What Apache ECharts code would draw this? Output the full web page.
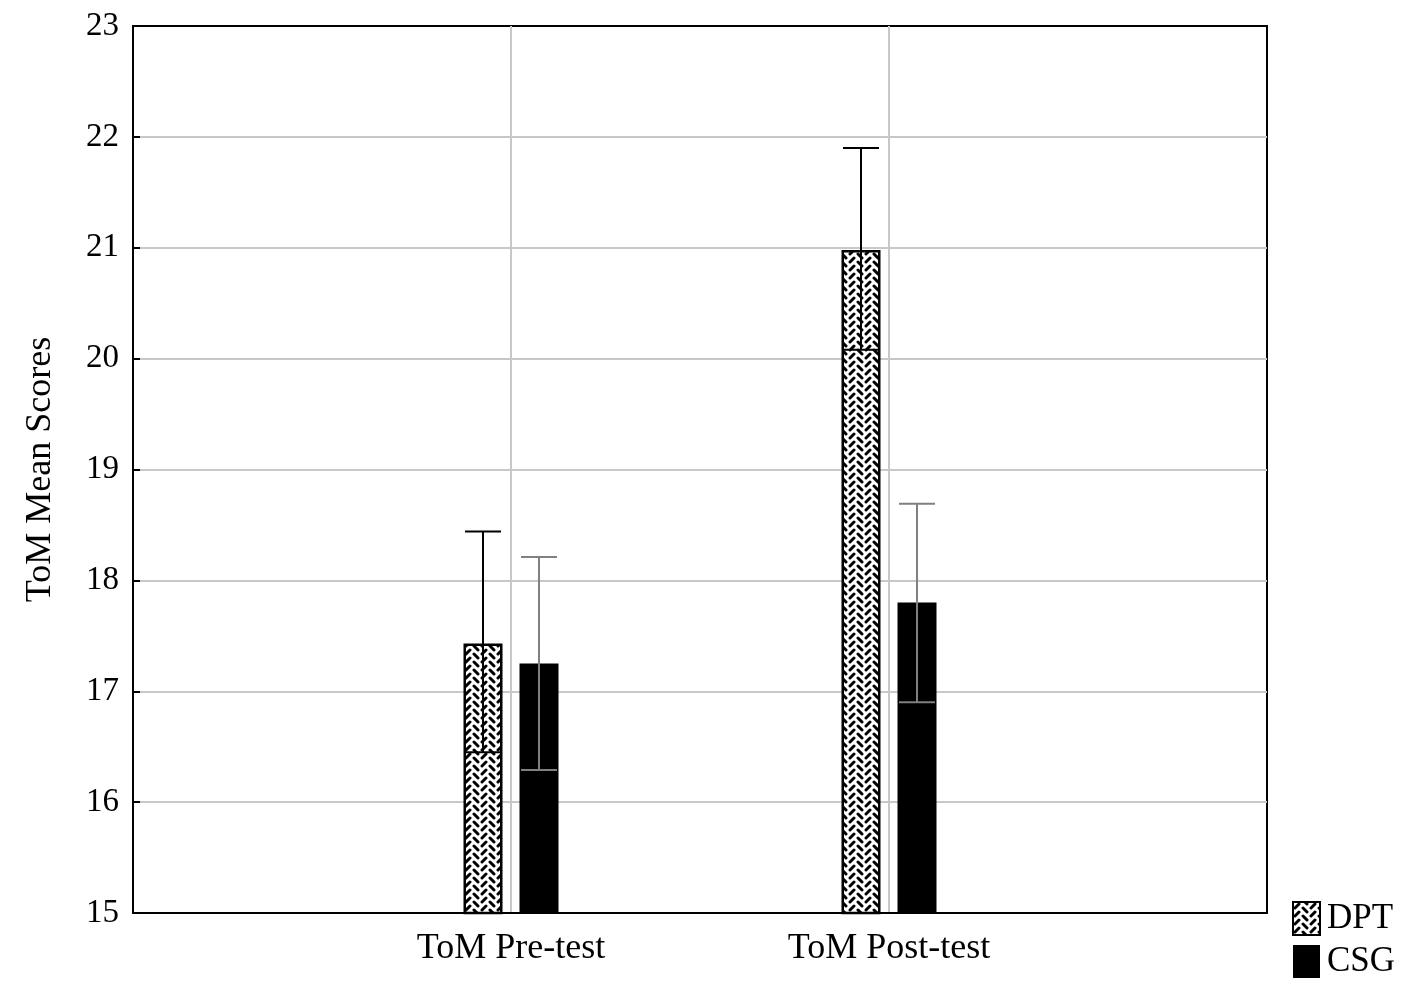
<!DOCTYPE html>
<html>
<head>
<meta charset="utf-8">
<script src="https://cdn.jsdelivr.net/npm/echarts@6/dist/echarts.min.js"></script>
<style>
  html, body { margin: 0; padding: 0; background: #fff; }
  #chart { width: 1417px; height: 995px; }
</style>
</head>
<body>
<div id="chart"></div>
<script>
// categories (blank slots at both ends keep the groups at 1/3 and 2/3)
var categories = ['', 'ToM Pre-test', 'ToM Post-test', ''];
var yTicks = [15, 16, 17, 18, 19, 20, 21, 22, 23];

// means and error bar ends
var dptMean  = [null, 17.43, 20.98, null];
var dptLow   = [null, 16.45, 20.08, null];
var dptHigh  = [null, 18.44, 21.90, null];
var csgMean  = [null, 17.25, 17.80, null];
var csgLow   = [null, 16.29, 16.90, null];
var csgHigh  = [null, 18.21, 18.69, null];

var serif = 'Liberation Serif, Times New Roman, serif';
var barW = 39;
var gapPx = 17;
var shift = (barW + gapPx) / 2;

// weave-like hatch for DPT
function makeWeave() {
    var c = document.createElement('canvas');
    c.width = 16; c.height = 16;
    var g = c.getContext('2d');
    g.fillStyle = '#fff';
    g.fillRect(0, 0, 16, 16);
    g.strokeStyle = '#000';
    g.lineWidth = 3;
    g.lineCap = 'round';
    function seg(x1, y1, x2, y2) { g.beginPath(); g.moveTo(x1, y1); g.lineTo(x2, y2); g.stroke(); }
    // column of '/' and column of '\' offset half a cell
    seg(2, 6, 6, 2);
    seg(2, 14, 6, 10);
    seg(10, 6, 14, 10);
    seg(10, -2, 14, 2);
    seg(10, 14, 14, 18);
    return c;
}
var weave = { image: makeWeave(), repeat: 'repeat' };

function errData(low, high) {
    var out = [];
    for (var i = 0; i < low.length; i++) {
        if (low[i] != null) out.push([i, low[i], high[i]]);
    }
    return out;
}

function errRender(dx, color) {
    return function (params, api) {
        var lo = api.coord([api.value(0), api.value(1)]);
        var hi = api.coord([api.value(0), api.value(2)]);
        var x = lo[0] + dx;
        var cap = 18;
        var st = { stroke: color, lineWidth: 2 };
        return {
            type: 'group',
            children: [
                { type: 'line', shape: { x1: x, y1: lo[1], x2: x, y2: hi[1] }, style: st },
                { type: 'line', shape: { x1: x - cap, y1: hi[1], x2: x + cap, y2: hi[1] }, style: st },
                { type: 'line', shape: { x1: x - cap, y1: lo[1], x2: x + cap, y2: lo[1] }, style: st }
            ]
        };
    };
}

var chart = echarts.init(document.getElementById('chart'));
chart.setOption({
    animation: false,
    backgroundColor: '#fff',
    grid: {
        left: 133, right: 150, top: 26, bottom: 82,
        show: true, borderColor: '#000', borderWidth: 2, containLabel: false
    },
    legend: {
        data: ['DPT', 'CSG'],
        orient: 'vertical',
        left: 1287, top: 896,
        itemWidth: 27, itemHeight: 33, itemGap: 8,
        icon: 'rect',
        textStyle: { fontFamily: serif, fontSize: 35, color: '#000', padding: [0, 0, 0, 2] }
    },
    xAxis: {
        type: 'category',
        data: categories,
        boundaryGap: false,
        axisLine: { lineStyle: { color: '#000', width: 2 } },
        axisTick: { show: false },
        axisLabel: { fontFamily: serif, fontSize: 36, color: '#000', margin: 18 },
        splitLine: { show: true, showMinLine: false, showMaxLine: false, lineStyle: { color: '#c8c8c8', width: 2 } }
    },
    yAxis: {
        type: 'value',
        min: yTicks[0], max: yTicks[yTicks.length - 1], interval: 1,
        name: 'ToM Mean Scores',
        nameLocation: 'middle',
        nameGap: 74,
        nameTextStyle: { fontFamily: serif, fontSize: 36, color: '#000' },
        axisLine: { show: true, lineStyle: { color: '#000', width: 2 } },
        axisTick: { show: true, inside: true, length: 7, lineStyle: { color: '#000', width: 2 } },
        axisLabel: { fontFamily: serif, fontSize: 33, color: '#000', margin: 14 },
        splitLine: { show: true, showMinLine: false, showMaxLine: false, lineStyle: { color: '#c8c8c8', width: 2 } }
    },
    series: [
        {
            name: 'DPT', type: 'bar', data: dptMean,
            barWidth: barW, barGap: (gapPx / barW * 100) + '%',
            itemStyle: { color: weave, borderColor: '#000', borderWidth: 2.5 }
        },
        {
            name: 'CSG', type: 'bar', data: csgMean,
            barWidth: barW,
            itemStyle: { color: '#000' }
        },
        {
            name: 'DPT err', type: 'custom', z: 5,
            data: errData(dptLow, dptHigh),
            renderItem: errRender(-shift, '#000')
        },
        {
            name: 'CSG err', type: 'custom', z: 5,
            data: errData(csgLow, csgHigh),
            renderItem: errRender(shift, '#808080')
        }
    ]
});
</script>
</body>
</html>
